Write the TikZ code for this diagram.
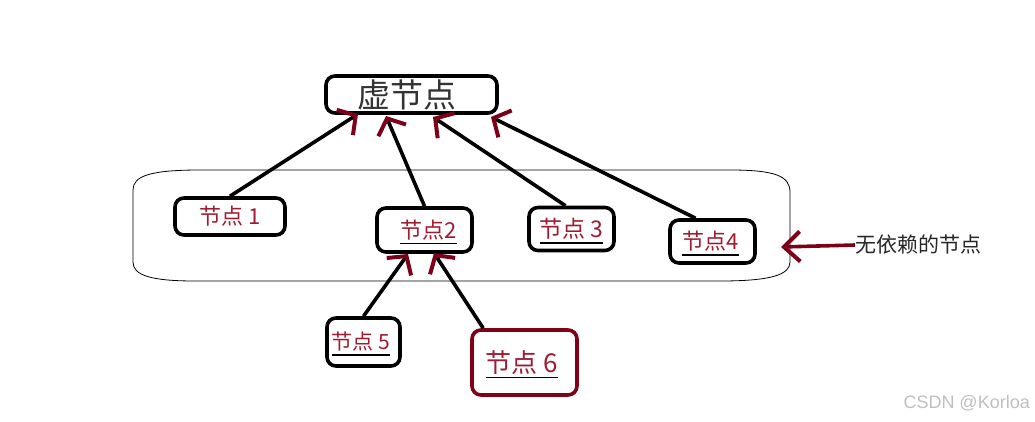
\documentclass[tikz,border=0pt]{standalone}
\usepackage{fontspec}
\setmainfont{Noto Sans CJK SC}
\newfontfamily\wmfont{Liberation Sans}
\usetikzlibrary{arrows.meta,calc}
\definecolor{txtred}{HTML}{9E1C32}
\definecolor{arrred}{HTML}{7D0019}
\definecolor{boxred}{HTML}{800018}
\newcommand\myul[1]{\setbox0\hbox{#1}\rlap{\smash{\color{black}\rule[-6pt]{\wd0}{1.8pt}}}\box0}
\newcommand\fs[1]{\fontsize{#1}{#1}\selectfont}
\tikzset{
  box/.style={draw=black, line width=3.6pt, rounded corners=9pt, inner sep=0pt, text=txtred, font=\fs{22}},
  link/.style={draw=black, line width=3.6pt, -{Straight Barb[color=arrred, length=13pt, width=30pt, line width=4pt]}},
}
\begin{document}
\begin{tikzpicture}[x=1pt,y=-1pt]
\useasboundingbox (0,0) rectangle (1035,421);
% container
\draw[line width=0.8pt] (200,170) -- (730,170) .. controls (775,170) and (790,176) .. (790,192) -- (790,262)
  .. controls (790,275) and (770,281) .. (720,281) -- (195,281) .. controls (150,281) and (133,275) .. (133,262)
  -- (133,190) .. controls (133,176) and (150,170) .. (200,170) -- cycle;
% nodes
\node[box, minimum width=171pt, minimum height=37pt, text=black!80, font=\fs{33}] (top) at (411.5,94.5) {\hspace*{-10pt}\raisebox{-2pt}{虚节点}};
\node[box, minimum width=110pt, minimum height=37pt] (n1) at (230,216.5) {节点 1};
\node[box, minimum width=95pt, minimum height=44pt] (n2) at (424.5,230) {\hspace*{8pt}\myul{节点2}};
\node[box, minimum width=85pt, minimum height=43pt, font=\fs{23}] (n3) at (571.5,229) {\myul{节点 3}};
\node[box, minimum width=85pt, minimum height=43pt] (n4) at (712.5,241.5) {\myul{节点4}\hspace*{4pt}};
\node[box, minimum width=73pt, minimum height=48pt, font=\fs{21}] (n5) at (363.5,342) {\myul{节点 5}\hspace*{5pt}};
\node[box, draw=boxred, minimum width=105pt, minimum height=65pt, font=\fs{26}] (n6) at (524.5,362.5) {\raisebox{-2pt}{\myul{节点 6}}\hspace*{5pt}};
\node[anchor=west, text=black!85, font=\fs{21}, inner sep=0pt] (lab) at (855,245) {无依赖的节点};
\node[anchor=east, text=black!25, font=\wmfont\fs{18}, inner sep=0pt] (wm) at (1030,403) {CSDN @Korloa};
% targets
\coordinate (t1) at (358,114);
\coordinate (t2) at (386,116);
\coordinate (t3) at (433,117);
\coordinate (t4) at (491,117);
\coordinate (t5) at (408,254);
\coordinate (t6) at (434,253);
\coordinate (t7) at (781,247);
% connectors
\draw[link] (n1.north) -- (t1);
\draw[link] (n2.north) -- (t2);
\draw[link] ($(n3.north)+(-6,0)$) -- (t3);
\draw[link] ($(n4.north)+(-17,0)$) -- (t4);
\draw[link] (n5.north) -- (t5);
\draw[link] ($(n6.north west)+(13,0)$) -- (t6);
\draw[draw=arrred, line width=3.6pt, -{Straight Barb[length=16pt, width=30pt, line width=4pt]}] (lab.west) -- (t7);
\end{tikzpicture}
\end{document}
